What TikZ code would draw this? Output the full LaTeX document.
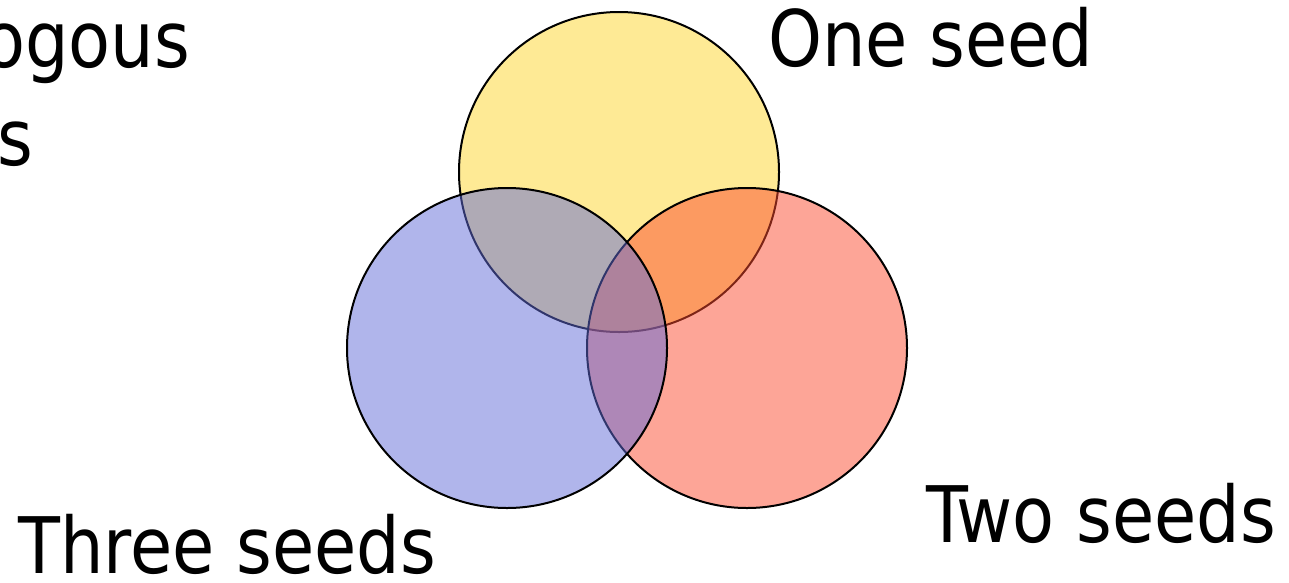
\documentclass[tikz,border=0pt]{standalone}
\usepackage{fontspec}
\setmainfont{DejaVu Sans}
\begin{document}
\begin{tikzpicture}[x=1pt,y=-1pt,
  setcircle/.style={draw=black,line width=2pt,fill opacity=0.5},
  lbl/.style={anchor=base west,inner sep=0pt,font=\fontsize{78}{84}\selectfont}]
\useasboundingbox (0,0) rectangle (1289,582);
\definecolor{cyel}{RGB}{253,213,43}
\definecolor{cred}{RGB}{251,75,47}
\definecolor{cblu}{RGB}{97,107,215}
\path[setcircle,fill=cyel] (619,172) circle[radius=160pt];
\path[setcircle,fill=cred] (747,348) circle[radius=160pt];
\path[setcircle,fill=cblu] (507,348) circle[radius=160pt];
\node[lbl] (one) at (768,66) {\scalebox{0.88}[1]{One seed}};
\node[lbl] (two) at (926,542) {\scalebox{0.88}[1]{Two seeds}};
\node[lbl] (three) at (18,573) {\scalebox{0.88}[1]{Three seeds}};
\node[lbl] (ogous) at (-17,67) {\scalebox{0.88}[1]{ogous}};
\node[lbl] (s) at (-3,165) {\scalebox{0.88}[1]{s}};
\end{tikzpicture}
\end{document}
